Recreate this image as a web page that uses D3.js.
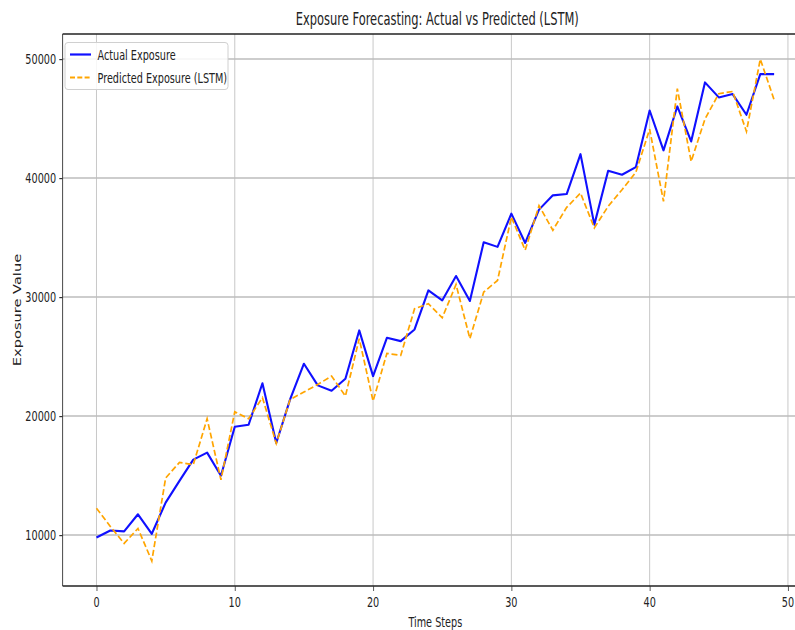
<!DOCTYPE html>
<html>
<head>
<meta charset="utf-8">
<script src="https://cdn.jsdelivr.net/npm/d3@7/dist/d3.min.js"></script>
<style>
  html, body { margin: 0; padding: 0; background: #fff; }
  svg { display: block; font-family: "DejaVu Sans", sans-serif; }
</style>
</head>
<body>
<svg id="chart" width="795" height="630"></svg>
<script>
const timeSteps = d3.range(0, 50);
const actualExposure = [
  9800, 10390, 10310, 11750, 10110, 12730, 14560, 16340, 16930, 14990,
  19100, 19270, 22760, 17740, 21400, 24400, 22580, 22130, 23140, 27200,
  23360, 26580, 26300, 27280, 30560, 29720, 31770, 29670, 34610, 34220,
  37010, 34550, 37350, 38550, 38660, 42010, 36090, 40620, 40280, 40920,
  45680, 42330, 46020, 43080, 48040, 46780, 47060, 45320, 48740, 48740
];
const predictedExposure = [
  12250, 10730, 9300, 10560, 7830, 14790, 16110, 15920, 19780, 14650,
  20370, 19780, 21550, 17700, 21400, 22020, 22660, 23360, 21680, 26500,
  21260, 25270, 25100, 29020, 29440, 28260, 31060, 26510, 30420, 31400,
  36730, 33940, 37680, 35620, 37540, 38740, 35810, 37630, 39020, 40480,
  44110, 38040, 47510, 41400, 44960, 47090, 47280, 43920, 50000, 46580
];
const xTicks = [0, 10, 20, 30, 40, 50];
const yTicks = [10000, 20000, 30000, 40000, 50000];
const seriesNames = ["Actual Exposure", "Predicted Exposure (LSTM)"];
const titleText = "Exposure Forecasting: Actual vs Predicted (LSTM)";
const xLabel = "Time Steps";
const yLabel = "Exposure Value";

const SX = 0.6625; // horizontal squeeze of the original figure
const svg = d3.select("#chart");
const L = 62.6, R = 808, T = 34, B = 586;

const x = d3.scaleLinear().domain([-2.45, 51.45]).range([L, R]);
const y = d3.scaleLinear().domain([5723, 52108]).range([B, T]);

// grid
const grid = svg.append("g");
grid.selectAll("line.gx").data(xTicks).join("line")
  .attr("x1", d => x(d)).attr("x2", d => x(d))
  .attr("y1", T).attr("y2", B)
  .attr("stroke", "#c8c8c8").attr("stroke-width", 1);
grid.selectAll("line.gy").data(yTicks).join("line")
  .attr("x1", L).attr("x2", R)
  .attr("y1", d => y(d)).attr("y2", d => y(d))
  .attr("stroke", "#bdbdbd").attr("stroke-width", 1.5);

// lines
const line = d3.line().x((d, i) => x(timeSteps[i])).y(d => y(d));
svg.append("path").datum(actualExposure)
  .attr("d", line).attr("fill", "none")
  .attr("stroke", "#1010ff").attr("stroke-width", 2.1)
  .attr("stroke-linejoin", "round");
svg.append("path").datum(predictedExposure)
  .attr("d", line).attr("fill", "none")
  .attr("stroke", "orange").attr("stroke-width", 1.7)
  .attr("stroke-dasharray", "6,2.8");

// spines
svg.append("line").attr("x1", L).attr("x2", R).attr("y1", T).attr("y2", T)
  .attr("stroke", "#222").attr("stroke-width", 1.3);
svg.append("line").attr("x1", L).attr("x2", R).attr("y1", B).attr("y2", B)
  .attr("stroke", "#222").attr("stroke-width", 1.3);
svg.append("line").attr("x1", L).attr("x2", L).attr("y1", T).attr("y2", B)
  .attr("stroke", "#333").attr("stroke-width", 0.9);
svg.append("line").attr("x1", R).attr("x2", R).attr("y1", T).attr("y2", B)
  .attr("stroke", "#333").attr("stroke-width", 0.9);

function sqText(g, tx, ty, txt, size, anchor) {
  return g.append("text")
    .attr("transform", `translate(${tx},${ty}) scale(${SX},1)`)
    .attr("text-anchor", anchor || "middle")
    .attr("font-size", size)
    .attr("fill", "#222")
    .text(txt);
}

// axes ticks with d3 axis generators (labels restyled)
const xAxis = svg.append("g").attr("transform", `translate(0,${B})`)
  .call(d3.axisBottom(x).tickValues(xTicks).tickSize(5).tickFormat(d3.format("d")));
xAxis.select(".domain").remove();
xAxis.selectAll(".tick line").attr("stroke", "#333").attr("stroke-width", 0.8);
xAxis.selectAll(".tick text").remove();
xTicks.forEach(t => sqText(svg, x(t), B + 21, String(t), 14.6));

const yAxis = svg.append("g").attr("transform", `translate(${L},0)`)
  .call(d3.axisLeft(y).tickValues(yTicks).tickSize(3.3).tickFormat(d3.format("d")));
yAxis.select(".domain").remove();
yAxis.selectAll(".tick line").attr("stroke", "#333").attr("stroke-width", 1.2);
yAxis.selectAll(".tick text").remove();
yTicks.forEach(t => sqText(svg, L - 6.5, y(t) + 5.2, String(t), 14.6, "end"));

// labels
sqText(svg, (L + R) / 2, 626.5, xLabel, 14.6);
svg.append("text")
  .attr("transform", `translate(21,310) scale(${SX},1) rotate(-90)`)
  .attr("text-anchor", "middle").attr("font-size", 14.6).attr("fill", "#222")
  .text(yLabel);
sqText(svg, (L + R) / 2 + 2, 25, titleText, 17.3);

// legend
const lg = svg.append("g");
lg.append("rect").attr("x", 65).attr("y", 42.5).attr("width", 163).attr("height", 47)
  .attr("rx", 3).attr("fill", "white").attr("fill-opacity", 0.85)
  .attr("stroke", "#d0d0d0").attr("stroke-width", 1);
const legendColors = ["#1010ff", "orange"];
const legendDash = [null, "5,2.3"];
seriesNames.forEach((n, i) => {
  const ly = 54.5 + i * 23;
  lg.append("line").attr("x1", 70).attr("x2", 91).attr("y1", ly).attr("y2", ly)
    .attr("stroke", legendColors[i]).attr("stroke-width", i === 0 ? 2.2 : 1.8)
    .attr("stroke-dasharray", legendDash[i]);
  sqText(lg, 97.5, ly + 5.2, n, 14.6, "start");
});
</script>
</body>
</html>
